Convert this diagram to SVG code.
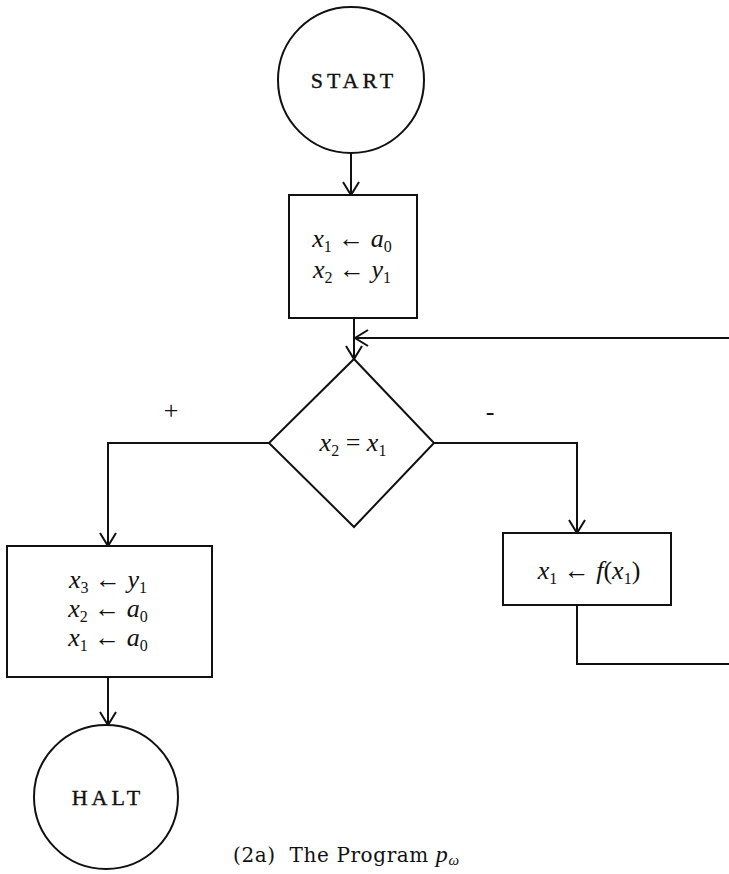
<svg xmlns="http://www.w3.org/2000/svg" width="729" height="874" viewBox="0 0 729 874">
<style>
.sh{fill:#fff;stroke:#111;stroke-width:2}
.ln{fill:none;stroke:#111;stroke-width:2}
.lbl{font-family:"Liberation Serif",serif;font-size:22px;fill:#111;stroke:#111;stroke-width:0.35;letter-spacing:4px}
.m{font-family:"Liberation Serif",serif;font-size:26px;fill:#111}
.v{font-style:italic}
.s{font-size:16px}
.cap{font-family:"DejaVu Serif",serif;font-size:20px;fill:#111;letter-spacing:0.6px}
.cs{font-family:"Liberation Serif",serif;font-size:24px}
</style>
<defs>
<marker id="ah" markerWidth="30" markerHeight="30" refX="0" refY="0" viewBox="-15 -15 30 30" orient="auto" markerUnits="userSpaceOnUse">
<path d="M-13,-8 L0,0 L-13,8" fill="none" stroke="#111" stroke-width="2"/>
</marker>
</defs>
<rect width="729" height="874" fill="#fff"/>
<g id="connectors">
<path class="ln" d="M351,153 L351,195" marker-end="url(#ah)"/>
<path class="ln" d="M354,318 L354,359" marker-end="url(#ah)"/>
<path class="ln" d="M729,338 L355,338" marker-end="url(#ah)"/>
<path class="ln" d="M269,443 L108,443 L108,546" marker-end="url(#ah)"/>
<path class="ln" d="M434,443 L577,443 L577,533" marker-end="url(#ah)"/>
<path class="ln" d="M577,605 L577,664 L729,664"/>
<path class="ln" d="M108,677 L108,725" marker-end="url(#ah)"/>
</g>
<g id="start">
<circle class="sh" cx="351" cy="80" r="73"/>
<text class="lbl" x="354" y="88" text-anchor="middle">START</text>
</g>
<g id="assign1">
<rect class="sh" x="289" y="195" width="128" height="123"/>
<text class="m" x="352" y="247" text-anchor="middle" xml:space="preserve"><tspan class="v">x</tspan><tspan class="s" dy="5">1</tspan><tspan dy="-5"> ← </tspan><tspan class="v">a</tspan><tspan class="s" dy="5">0</tspan></text>
<text class="m" x="352" y="278" text-anchor="middle" xml:space="preserve"><tspan class="v">x</tspan><tspan class="s" dy="5">2</tspan><tspan dy="-5"> ← </tspan><tspan class="v">y</tspan><tspan class="s" dy="5">1</tspan></text>
</g>
<g id="test">
<polygon class="sh" points="354,359 434,443 354,527 269,443"/>
<text class="m" x="353" y="451" text-anchor="middle" xml:space="preserve"><tspan class="v">x</tspan><tspan class="s" dy="5">2</tspan><tspan dy="-5"> = </tspan><tspan class="v">x</tspan><tspan class="s" dy="5">1</tspan></text>
</g>
<g id="labels">
<text class="m" x="171" y="419" text-anchor="middle" font-size="22">+</text>
<text class="m" x="490" y="420" text-anchor="middle" font-size="22">-</text>
</g>
<g id="assign2">
<rect class="sh" x="7" y="546" width="205" height="131"/>
<text class="m" x="108" y="588" text-anchor="middle" xml:space="preserve"><tspan class="v">x</tspan><tspan class="s" dy="5">3</tspan><tspan dy="-5"> ← </tspan><tspan class="v">y</tspan><tspan class="s" dy="5">1</tspan></text>
<text class="m" x="108" y="617" text-anchor="middle" xml:space="preserve"><tspan class="v">x</tspan><tspan class="s" dy="5">2</tspan><tspan dy="-5"> ← </tspan><tspan class="v">a</tspan><tspan class="s" dy="5">0</tspan></text>
<text class="m" x="108" y="646" text-anchor="middle" xml:space="preserve"><tspan class="v">x</tspan><tspan class="s" dy="5">1</tspan><tspan dy="-5"> ← </tspan><tspan class="v">a</tspan><tspan class="s" dy="5">0</tspan></text>
</g>
<g id="update">
<rect class="sh" x="503" y="533" width="168" height="72"/>
<text class="m" x="589" y="579" text-anchor="middle" xml:space="preserve"><tspan class="v">x</tspan><tspan class="s" dy="5">1</tspan><tspan dy="-5"> ← </tspan><tspan class="v">f</tspan><tspan>(</tspan><tspan class="v">x</tspan><tspan class="s" dy="5">1</tspan><tspan dy="-5">)</tspan></text>
</g>
<g id="halt">
<circle class="sh" cx="106" cy="797" r="72"/>
<text class="lbl" x="108" y="805" text-anchor="middle">HALT</text>
</g>
<g id="caption">
<text class="cap" x="233" y="862" xml:space="preserve">(2a)  The Program <tspan class="cs v">p</tspan><tspan class="v" font-family="Liberation Serif, serif" font-size="15" dy="3">ω</tspan></text>
</g>
</svg>
